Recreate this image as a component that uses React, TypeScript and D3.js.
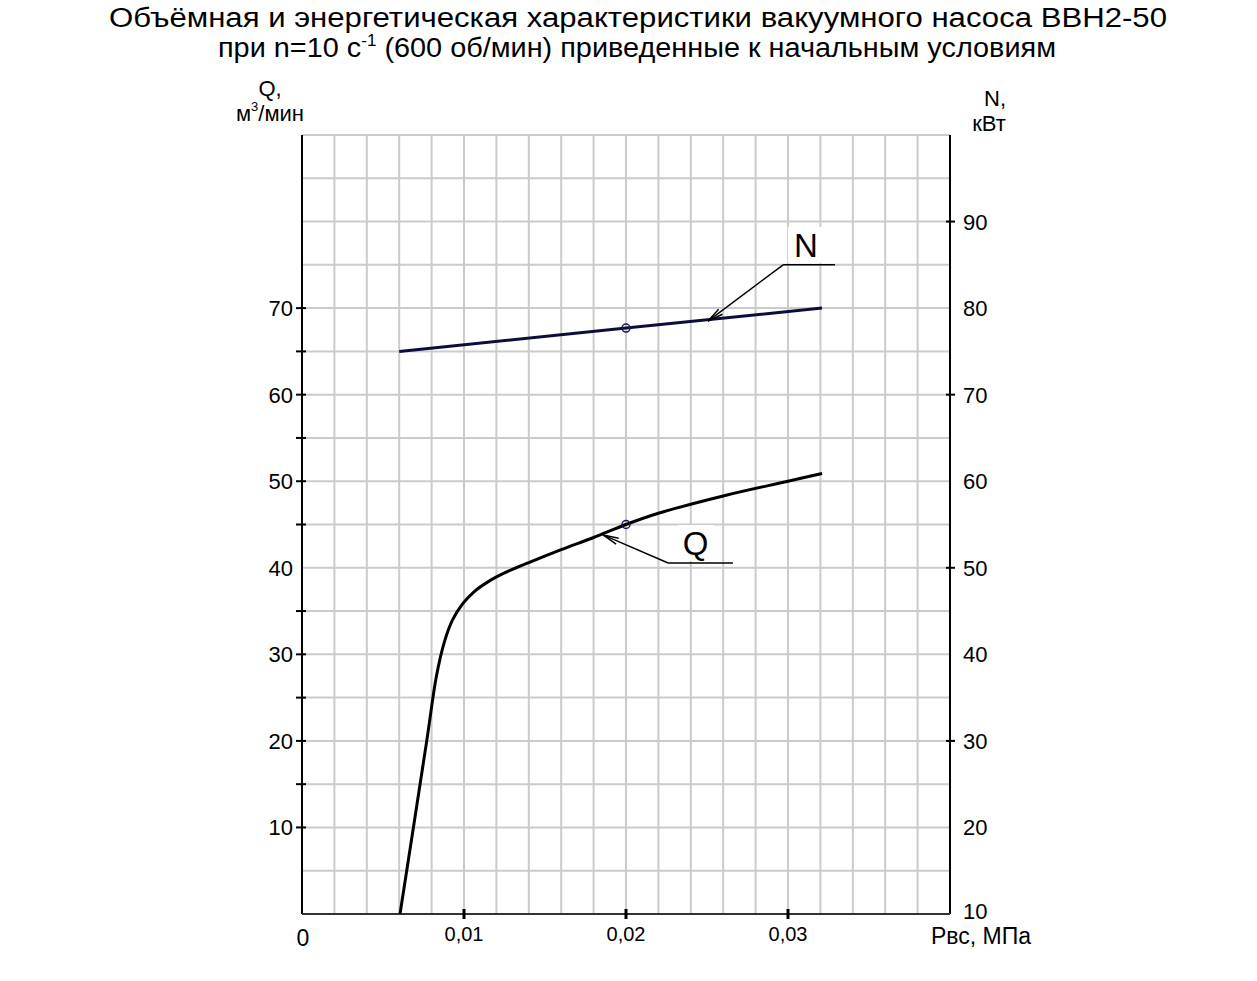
import { useEffect, useRef } from "react";
import * as d3 from "d3";

// pressure, MPa
const qPressure = [0.00605, 0.0077, 0.0083, 0.0088, 0.0093, 0.0099, 0.0106, 0.0115, 0.0125, 0.014, 0.016, 0.018, 0.02, 0.022, 0.026, 0.03, 0.0321];
// capacity Q, m3/min
const qValues = [0, 20, 27.5, 31.5, 34, 35.8, 37.2, 38.4, 39.4, 40.6, 42.1, 43.5, 45, 46.3, 48.3, 50, 50.9];

const nPressure = [0.006, 0.02, 0.0321];
// power N, kW
const nValues = [75, 77.7, 80];

const xTickValues = [0.01, 0.02, 0.03];
const xTickLabels = ["0,01", "0,02", "0,03"];
const qTickLabels = [10, 20, 30, 40, 50, 60, 70];
const qTickMarks = [10, 15, 20, 25, 30, 35, 45, 50, 55, 60, 65, 70];
const nTickLabels = [10, 20, 30, 40, 50, 60, 70, 80, 90];
const nTickMarks = [30, 50, 70, 90];

const W = 1257;
const H = 981;
const FONT = "'Liberation Sans', Arial, sans-serif";

function Chart() {
  const ref = useRef<SVGSVGElement>(null);

  useEffect(() => {
    const svg = d3.select(ref.current);
    svg.selectAll("*").remove();

    const left = 302, right = 950, top = 135, bottom = 914;
    const x = d3.scaleLinear().domain([0, 0.04]).range([left, right]);
    const yQ = d3.scaleLinear().domain([0, 90]).range([bottom, top]);
    const yN = d3.scaleLinear().domain([10, 100]).range([bottom, top]);

    // title
    const title = svg.append("g").attr("font-family", FONT).attr("font-size", 27).attr("fill", "#000").attr("text-anchor", "middle");
    title.append("text").attr("x", 638).attr("y", 27)
      .attr("textLength", 1058).attr("lengthAdjust", "spacingAndGlyphs")
      .text("Объёмная и энергетическая характеристики вакуумного насоса ВВН2-50");
    const t2 = title.append("text").attr("x", 637).attr("y", 57)
      .attr("textLength", 838).attr("lengthAdjust", "spacingAndGlyphs");
    t2.append("tspan").text("при n=10 с");
    t2.append("tspan").attr("font-size", 16).attr("dy", -11).text("-1");
    t2.append("tspan").attr("dy", 11).text(" (600 об/мин) приведенные к начальным условиям");

    // grid
    const grid = svg.append("g").attr("stroke", "#cbcbcb").attr("stroke-width", 2);
    grid.selectAll("line.v")
      .data(d3.range(1, 20).map((i) => i * 0.002))
      .join("line")
      .attr("x1", (d) => x(d)).attr("x2", (d) => x(d))
      .attr("y1", top).attr("y2", bottom);
    grid.selectAll("line.h")
      .data(d3.range(1, 19).map((i) => i * 5))
      .join("line")
      .attr("x1", left).attr("x2", right)
      .attr("y1", (d) => yQ(d)).attr("y2", (d) => yQ(d));

    // axes
    const axes = svg.append("g").attr("stroke-width", 2);
    axes.append("line").attr("x1", left).attr("x2", left).attr("y1", top).attr("y2", bottom).attr("stroke", "#000");
    axes.append("line").attr("x1", right).attr("x2", right).attr("y1", top).attr("y2", bottom).attr("stroke", "#000");
    axes.append("line").attr("x1", left).attr("x2", right).attr("y1", bottom).attr("y2", bottom).attr("stroke", "#333");

    axes.selectAll("line.qt").data(qTickMarks).join("line")
      .attr("stroke", "#000")
      .attr("x1", left - 6).attr("x2", left + 4)
      .attr("y1", (d) => yQ(d)).attr("y2", (d) => yQ(d));
    axes.selectAll("line.nt").data(nTickMarks).join("line")
      .attr("stroke", "#000")
      .attr("x1", right - 4).attr("x2", right + 5)
      .attr("y1", (d) => yN(d)).attr("y2", (d) => yN(d));
    axes.selectAll("line.xt").data(xTickValues).join("line")
      .attr("stroke", "#000").attr("stroke-width", 3)
      .attr("x1", (d) => x(d)).attr("x2", (d) => x(d))
      .attr("y1", bottom - 5).attr("y2", bottom + 5);

    const labels = svg.append("g").attr("font-family", FONT).attr("fill", "#000");
    labels.selectAll("text.q").data(qTickLabels).join("text")
      .attr("x", left - 9).attr("y", (d) => yQ(d) + 8)
      .attr("text-anchor", "end").attr("font-size", 22)
      .text((d) => d);
    labels.selectAll("text.n").data(nTickLabels).join("text")
      .attr("x", right + 13).attr("y", (d) => yN(d) + (d === 10 ? 5 : 8))
      .attr("font-size", 22)
      .text((d) => d);
    labels.selectAll("text.x").data(xTickValues).join("text")
      .attr("x", (d) => x(d)).attr("y", bottom + 27)
      .attr("text-anchor", "middle").attr("font-size", 20)
      .text((_, i) => xTickLabels[i]);
    labels.append("text").attr("x", left + 1).attr("y", bottom + 32).attr("text-anchor", "middle").attr("font-size", 23).text("0");
    labels.append("text").attr("x", 981).attr("y", bottom + 30).attr("text-anchor", "middle").attr("font-size", 23).text("Рвс, МПа");

    // axis titles
    labels.append("text").attr("x", 270).attr("y", 96).attr("text-anchor", "middle").attr("font-size", 22).text("Q,");
    const qu = labels.append("text").attr("x", 270).attr("y", 121).attr("text-anchor", "middle").attr("font-size", 22);
    qu.append("tspan").text("м");
    qu.append("tspan").attr("font-size", 13).attr("dy", -10).text("3");
    qu.append("tspan").attr("dy", 10).text("/мин");
    labels.append("text").attr("x", 995).attr("y", 106).attr("text-anchor", "middle").attr("font-size", 22).text("N,");
    labels.append("text").attr("x", 989).attr("y", 131).attr("text-anchor", "middle").attr("font-size", 22).text("кВт");

    // curves
    const qPts: [number, number][] = qPressure.map((p, i) => [p, qValues[i]]);
    const nPts: [number, number][] = nPressure.map((p, i) => [p, nValues[i]]);
    svg.append("path")
      .attr("d", d3.line<[number, number]>().x((d) => x(d[0])).y((d) => yQ(d[1])).curve(d3.curveCatmullRom.alpha(0.5))(qPts))
      .attr("fill", "none").attr("stroke", "#000").attr("stroke-width", 3);
    svg.append("path")
      .attr("d", d3.line<[number, number]>().x((d) => x(d[0])).y((d) => yN(d[1]))(nPts))
      .attr("fill", "none").attr("stroke", "#0d0d3d").attr("stroke-width", 3);

    // marker points
    svg.append("circle").attr("cx", x(0.02)).attr("cy", yQ(45)).attr("r", 4)
      .attr("fill", "none").attr("stroke", "#1a1a5a").attr("stroke-width", 1.5);
    svg.append("circle").attr("cx", x(0.02)).attr("cy", yN(77.7)).attr("r", 4)
      .attr("fill", "none").attr("stroke", "#1a1a5a").attr("stroke-width", 1.5);

    // callouts
    const callout = (
      tip: [number, number],
      elbow: [number, number],
      end: number,
      label: string,
      labelX: number,
    ) => {
      const g = svg.append("g");
      const [tx, ty] = tip;
      const [ex, ey] = elbow;
      g.append("rect").attr("x", labelX - 18).attr("y", ey - 38).attr("width", 36).attr("height", 36).attr("fill", "#fff");
      g.append("text").attr("x", labelX).attr("y", ey - 8).attr("text-anchor", "middle")
        .attr("font-family", FONT).attr("font-size", 33).text(label);
      g.append("line").attr("x1", ex).attr("y1", ey).attr("x2", end).attr("y2", ey).attr("stroke", "#000").attr("stroke-width", 1.5);
      g.append("line").attr("x1", ex).attr("y1", ey).attr("x2", tx).attr("y2", ty).attr("stroke", "#000").attr("stroke-width", 1.5);
      const a = Math.atan2(ey - ty, ex - tx);
      const len = 16, spread = 0.2;
      const p1 = [tx + len * Math.cos(a - spread), ty + len * Math.sin(a - spread)];
      const p2 = [tx + len * Math.cos(a + spread), ty + len * Math.sin(a + spread)];
      g.append("path").attr("d", `M${p1[0]},${p1[1]}L${tx},${ty}L${p2[0]},${p2[1]}`)
        .attr("fill", "none").attr("stroke", "#000").attr("stroke-width", 1.5);
    };
    callout([x(0.02506), yN(78.5)], [x(0.0297), yN(85)], x(0.0329), "N", x(0.0311));
    callout([x(0.01858), yQ(43.8)], [x(0.0226), yQ(40.55)], x(0.0266), "Q", x(0.0243));
  }, []);

  return <svg ref={ref} width={W} height={H} style={{ position: "absolute", left: 0, top: 0, background: "#fff" }} />;
}

export default function App() {
  return <Chart />;
}
